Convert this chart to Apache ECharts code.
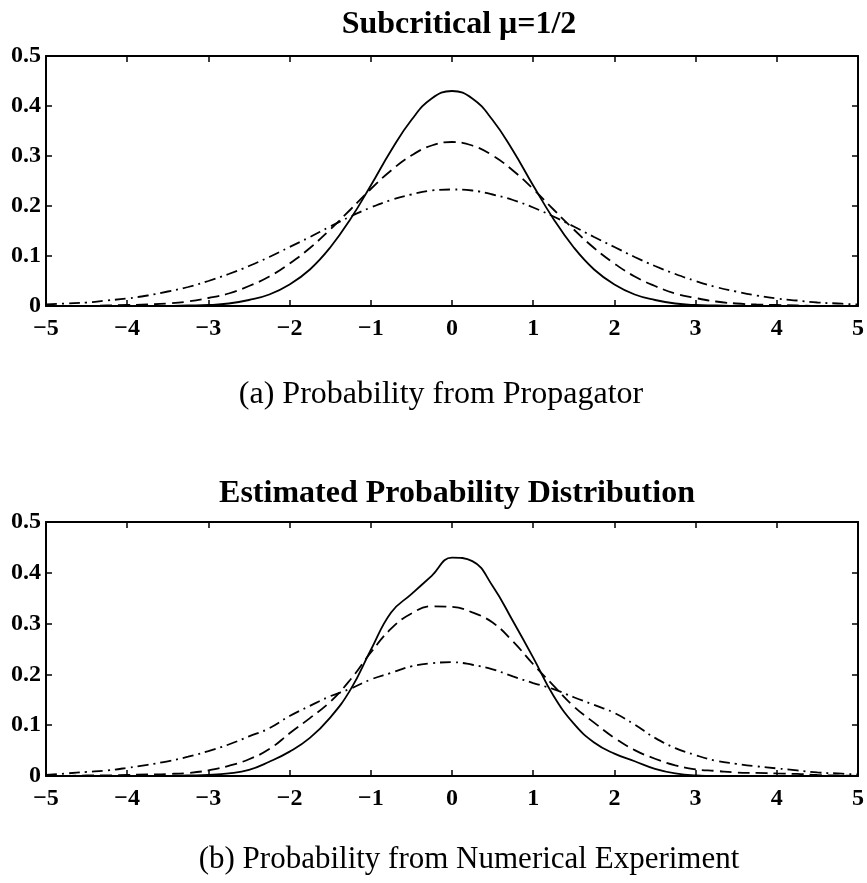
<!DOCTYPE html>
<html>
<head>
<meta charset="utf-8">
<script src="https://cdn.jsdelivr.net/npm/echarts@6/dist/echarts.min.js"></script>
<style>
  html, body { margin: 0; padding: 0; background: #fff; }
  #main { width: 867px; height: 883px; }
</style>
</head>
<body>
<div id="main"></div>
<script>
// x positions shared by all curves
const xs = [-5, -4.75, -4.5, -4.25, -4, -3.75, -3.5, -3.25, -3, -2.75, -2.5, -2.25, -2, -1.75, -1.5, -1.25, -1, -0.75, -0.5, -0.25,
  0, 0.25, 0.5, 0.75, 1, 1.25, 1.5, 1.75, 2, 2.25, 2.5, 2.75, 3, 3.25, 3.5, 3.75, 4, 4.25, 4.5, 4.75, 5];

// (a) propagator
const propSolid = [0, 0, 0, 0, 0, 0, 0, 0.001, 0.002, 0.005, 0.012, 0.023, 0.043, 0.073, 0.117, 0.174, 0.241, 0.311, 0.372, 0.415,
  0.430, 0.415, 0.372, 0.311, 0.241, 0.174, 0.117, 0.073, 0.043, 0.023, 0.012, 0.005, 0.002, 0.001, 0, 0, 0, 0, 0, 0, 0];
const propDashed = [0, 0, 0, 0.001, 0.002, 0.003, 0.005, 0.009, 0.016, 0.025, 0.040, 0.059, 0.085, 0.116, 0.153, 0.193, 0.234, 0.271, 0.301, 0.321,
  0.328, 0.321, 0.301, 0.271, 0.234, 0.193, 0.153, 0.116, 0.085, 0.059, 0.040, 0.025, 0.016, 0.009, 0.005, 0.003, 0.002, 0.001, 0, 0, 0];
const propDashDot = [0.003, 0.005, 0.007, 0.011, 0.015, 0.021, 0.029, 0.038, 0.050, 0.064, 0.080, 0.098, 0.118, 0.138, 0.159, 0.179, 0.197, 0.212, 0.223, 0.231,
  0.233, 0.231, 0.223, 0.212, 0.197, 0.179, 0.159, 0.138, 0.118, 0.098, 0.080, 0.064, 0.050, 0.038, 0.029, 0.021, 0.015, 0.011, 0.007, 0.005, 0.003];

// (b) numerical experiment
const expSolid = [0, 0, 0, 0, 0, 0, 0, 0.001, 0.002, 0.005, 0.012, 0.028, 0.048, 0.075, 0.115, 0.170, 0.248, 0.322, 0.358, 0.394,
  0.430, 0.423, 0.374, 0.305, 0.233, 0.158, 0.103, 0.066, 0.044, 0.029, 0.014, 0.005, 0.001, 0, 0, 0, 0, 0, 0, 0, 0];
const expDashed = [0, 0, 0.001, 0.001, 0.002, 0.003, 0.004, 0.006, 0.011, 0.020, 0.033, 0.053, 0.084, 0.114, 0.146, 0.190, 0.243, 0.290, 0.320, 0.334,
  0.333, 0.322, 0.302, 0.265, 0.220, 0.178, 0.137, 0.105, 0.075, 0.051, 0.034, 0.021, 0.013, 0.010, 0.007, 0.006, 0.005, 0.004, 0.002, 0.001, 0];
const expDashDot = [0.002, 0.005, 0.008, 0.011, 0.016, 0.022, 0.029, 0.038, 0.049, 0.062, 0.078, 0.094, 0.118, 0.138, 0.157, 0.172, 0.190, 0.203, 0.216, 0.222,
  0.224, 0.219, 0.210, 0.196, 0.183, 0.171, 0.155, 0.140, 0.124, 0.101, 0.075, 0.055, 0.041, 0.030, 0.024, 0.019, 0.015, 0.011, 0.007, 0.005, 0.003];

const titles = ['Subcritical \u03bc=1/2', 'Estimated Probability Distribution'];
const captions = ['(a) Probability from Propagator', '(b) Probability from Numerical Experiment'];

const chart = echarts.init(document.getElementById('main'), null, { renderer: 'canvas' });

const tickFont = { fontFamily: 'Liberation Serif', fontWeight: 'bold', fontSize: 24, color: '#000' };
const lineCol = '#000';

function pairs(vals) {
  return xs.map((x, i) => [x, vals[i]]);
}

function xAxisFor(gi, pos) {
  return {
    type: 'value', gridIndex: gi, position: pos, min: -5, max: 5, interval: 1,
    axisLine: { show: true, onZero: false, lineStyle: { color: lineCol, width: 2 } },
    axisTick: { show: true, inside: true, length: 6, lineStyle: { color: lineCol, width: 1.5 } },
    axisLabel: pos === 'bottom' ? Object.assign({ margin: 11, formatter: v => String(v).replace('-', '\u2212') }, tickFont) : { show: false },
    splitLine: { show: false }
  };
}

function yAxisFor(gi, pos) {
  return {
    type: 'value', gridIndex: gi, position: pos, min: 0, max: 0.5, interval: 0.1,
    axisLine: { show: true, onZero: false, lineStyle: { color: lineCol, width: 2 } },
    axisTick: { show: true, inside: true, length: 6, lineStyle: { color: lineCol, width: 1.5 } },
    axisLabel: pos === 'left' ? Object.assign({ margin: 5, formatter: v => String(+v.toFixed(1)) }, tickFont) : { show: false },
    splitLine: { show: false }
  };
}

function curve(vals, gi, dash) {
  return {
    type: 'line', xAxisIndex: gi * 2, yAxisIndex: gi * 2,
    data: pairs(vals), smooth: 0.45, showSymbol: false, symbol: 'none',
    lineStyle: { color: '#000', width: 1.8, type: dash },
    silent: true
  };
}

const option = {
  backgroundColor: '#fff',
  animation: false,
  title: [
    { text: titles[0], left: 454, top: 4, textAlign: 'center',
      textStyle: { fontFamily: 'Liberation Serif', fontWeight: 'bold', fontSize: 32, color: '#000' } },
    { text: captions[0], left: 436, top: 374, textAlign: 'center',
      textStyle: { fontFamily: 'Liberation Serif', fontWeight: 'normal', fontSize: 32, color: '#000' } },
    { text: titles[1], left: 452, top: 473, textAlign: 'center',
      textStyle: { fontFamily: 'Liberation Serif', fontWeight: 'bold', fontSize: 32, color: '#000' } },
    { text: captions[1], left: 464, top: 839, textAlign: 'center',
      textStyle: { fontFamily: 'Liberation Serif', fontWeight: 'normal', fontSize: 31, color: '#000' } }
  ],
  grid: [
    { left: 46, top: 56, width: 816, height: 250 },
    { left: 46, top: 522, width: 816, height: 254 }
  ],
  xAxis: [xAxisFor(0, 'bottom'), xAxisFor(0, 'top'), xAxisFor(1, 'bottom'), xAxisFor(1, 'top')],
  yAxis: [yAxisFor(0, 'left'), yAxisFor(0, 'right'), yAxisFor(1, 'left'), yAxisFor(1, 'right')],
  series: [
    curve(propSolid, 0, 'solid'),
    curve(propDashed, 0, [12, 6]),
    curve(propDashDot, 0, [11, 5, 2, 5]),
    curve(expSolid, 1, 'solid'),
    curve(expDashed, 1, [12, 6]),
    curve(expDashDot, 1, [11, 5, 2, 5])
  ]
};

chart.setOption(option);
</script>
</body>
</html>
